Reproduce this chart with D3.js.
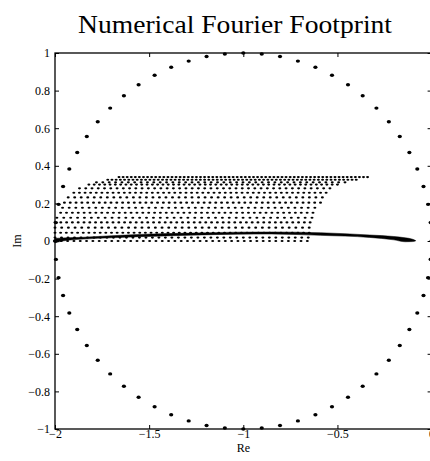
<!DOCTYPE html>
<html>
<head>
<meta charset="utf-8">
<script src="https://cdn.jsdelivr.net/npm/d3@7"></script>
<style>
  html, body { margin: 0; padding: 0; background: #fff; }
  svg { display: block; }
  text { font-family: "Liberation Serif", "Times New Roman", serif; fill: #000; }
</style>
</head>
<body>
<svg id="chart" width="430" height="461"></svg>
<script>
// Stability circle |1 + z| = 1 sampled at 64 points (Re, Im)
const circleRe = [
  0, -0.005, -0.019, -0.043, -0.076, -0.118, -0.169, -0.227, -0.293, -0.366, -0.444, -0.529, -0.617, -0.710, -0.805, -0.902, -1,
  -1.098, -1.195, -1.290, -1.383, -1.471, -1.556, -1.634, -1.707, -1.773, -1.831, -1.882, -1.924, -1.957, -1.981, -1.995, -2,
  -1.995, -1.981, -1.957, -1.924, -1.882, -1.831, -1.773, -1.707, -1.634, -1.556, -1.471, -1.383, -1.290, -1.195, -1.098, -1,
  -0.902, -0.805, -0.710, -0.617, -0.529, -0.444, -0.366, -0.293, -0.227, -0.169, -0.118, -0.076, -0.043, -0.019, -0.005
];
const circleIm = [
  0, 0.098, 0.195, 0.290, 0.383, 0.471, 0.556, 0.634, 0.707, 0.773, 0.831, 0.882, 0.924, 0.957, 0.981, 0.995, 1,
  0.995, 0.981, 0.957, 0.924, 0.882, 0.831, 0.773, 0.707, 0.634, 0.556, 0.471, 0.383, 0.290, 0.195, 0.098, 0,
  -0.098, -0.195, -0.290, -0.383, -0.471, -0.556, -0.634, -0.707, -0.773, -0.831, -0.882, -0.924, -0.957, -0.981, -0.995, -1,
  -0.995, -0.981, -0.957, -0.924, -0.882, -0.831, -0.773, -0.707, -0.634, -0.556, -0.471, -0.383, -0.290, -0.195, -0.098
];

// Footprint eigenvalue rows: imaginary level, first/last real part, dots per row
const rowIm    = [0.340, 0.326, 0.312, 0.300, 0.280, 0.257, 0.232, 0.204, 0.177, 0.150, 0.124, 0.099, 0.071, 0.044, 0.018, 0.000];
const rowReLo  = [-1.66, -1.72, -1.78, -1.82, -1.87, -1.90, -1.93, -1.95, -1.96, -1.97, -1.99, -2.00, -2.00, -2.00, -2.00, -2.00];
const rowReHi  = [-0.34, -0.40, -0.46, -0.50, -0.54, -0.56, -0.58, -0.59, -0.62, -0.63, -0.635, -0.645, -0.65, -0.65, -0.655, -0.66];
const rowCount = [62, 60, 40, 48, 41, 46, 40, 45, 39, 44, 38, 45, 39, 46, 40, 41];

// Dense low-frequency branch near the real axis (upper and lower edge)
const branchRe    = [-2.0, -1.96, -1.85, -1.7, -1.55, -1.28, -1.03, -0.85, -0.59, -0.33, -0.2, -0.14, -0.1, -0.085];
const branchUpper = [0.014, 0.016, 0.020, 0.028, 0.035, 0.042, 0.047, 0.048, 0.044, 0.032, 0.024, 0.017, 0.009, 0.002];
const branchLower = [-0.010, 0.000, 0.010, 0.017, 0.023, 0.031, 0.036, 0.037, 0.030, 0.019, 0.006, -0.004, -0.003, 0.000];

const xTicks = [-2, -1.5, -1, -0.5, 0];
const yTicks = [-1, -0.8, -0.6, -0.4, -0.2, 0, 0.2, 0.4, 0.6, 0.8, 1];
const fmt = v => (v < 0 ? "\u2212" + String(-v) : String(v));

const svg = d3.select("#chart");
const plotL = 55, plotR = 431.6, plotT = 53, plotB = 429;

const x = d3.scaleLinear().domain([-2, 0]).range([plotL, plotR]);
const y = d3.scaleLinear().domain([-1, 1]).range([plotB, plotT]);

// title
svg.append("text")
  .attr("x", 235).attr("y", 33)
  .attr("text-anchor", "middle")
  .attr("textLength", 314).attr("lengthAdjust", "spacingAndGlyphs")
  .style("font-size", "25px")
  .text("Numerical Fourier Footprint");

// axes with inward ticks
const axStyle = g => {
  g.select(".domain").remove();
  g.attr("font-family", null).attr("font-size", null);
  g.selectAll(".tick line").attr("stroke", "#000").attr("stroke-width", 1);
  g.selectAll(".tick text").style("font-size", "12px").attr("fill", "#000")
    .style("font-family", "'Liberation Serif', serif");
};
svg.append("g").attr("transform", `translate(0,${plotB})`)
  .call(d3.axisBottom(x).tickValues(xTicks).tickFormat(fmt).tickSizeInner(-4).tickSizeOuter(0).tickPadding(0))
  .call(axStyle);
svg.append("g").attr("transform", `translate(0,${plotT})`)
  .call(d3.axisTop(x).tickValues(xTicks).tickFormat("").tickSizeInner(-4).tickSizeOuter(0))
  .call(axStyle);
svg.append("g").attr("transform", `translate(${plotL},0)`)
  .call(d3.axisLeft(y).tickValues(yTicks).tickFormat(fmt).tickSizeInner(-4).tickSizeOuter(0).tickPadding(5))
  .call(axStyle);
svg.append("g").attr("transform", `translate(${plotR},0)`)
  .call(d3.axisRight(y).tickValues(yTicks).tickFormat("").tickSizeInner(-4).tickSizeOuter(0))
  .call(axStyle);

// frame
svg.append("rect")
  .attr("x", plotL).attr("y", plotT)
  .attr("width", plotR - plotL).attr("height", plotB - plotT)
  .attr("fill", "none").attr("stroke", "#000").attr("stroke-width", 1.3);

// axis labels
svg.append("text").attr("x", x(-1)).attr("y", 452)
  .attr("text-anchor", "middle").style("font-size", "12px").text("Re");
svg.append("text").attr("transform", `translate(21,${y(0)}) rotate(-90)`)
  .attr("text-anchor", "middle").style("font-size", "12px").text("Im");

// footprint dot rows
const rowDots = [];
rowIm.forEach((im, i) => {
  const n = rowCount[i];
  d3.range(n).forEach(j => {
    const re = rowReLo[i] + (rowReHi[i] - rowReLo[i]) * j / (n - 1);
    rowDots.push([re, im]);
  });
});
svg.append("g").selectAll("ellipse").data(rowDots).join("ellipse")
  .attr("cx", d => x(d[0])).attr("cy", d => y(d[1]))
  .attr("rx", 1.5).attr("ry", 1.05).attr("fill", "#000");

// dense branch
const branch = branchRe.map((re, i) => ({ re, hi: branchUpper[i], lo: branchLower[i] }));
svg.append("path").datum(branch)
  .attr("d", d3.area().x(d => x(d.re)).y0(d => y(d.lo)).y1(d => y(d.hi)).curve(d3.curveMonotoneX))
  .attr("fill", "#000").attr("stroke", "#000").attr("stroke-width", 0.5);

// circle points
const circ = circleRe.map((re, i) => [re, circleIm[i]]);
svg.append("g").selectAll("ellipse").data(circ).join("ellipse")
  .attr("cx", d => x(d[0])).attr("cy", d => y(d[1]))
  .attr("rx", 2.1).attr("ry", 1.7).attr("fill", "#000");
</script>
</body>
</html>
